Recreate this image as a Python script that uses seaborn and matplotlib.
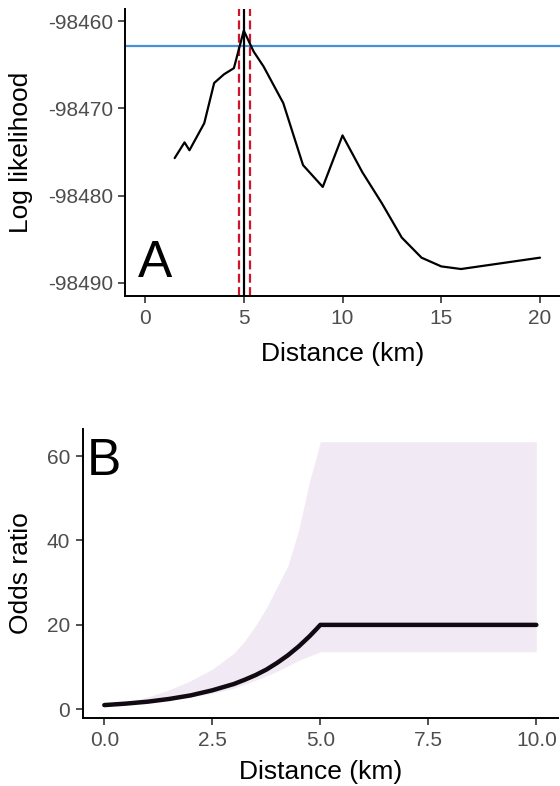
import numpy as np
import pandas as pd
import matplotlib
matplotlib.use("Agg")
import matplotlib.pyplot as plt
import seaborn as sns

# ---- panel A: profile log likelihood vs distance
dist_a = [1.5, 2.0, 2.25, 3.0, 3.5, 4.0, 4.5, 5.0, 5.5, 6.0, 7.0, 8.0, 9.0,
          10.0, 11.0, 12.0, 13.0, 14.0, 15.0, 16.0, 20.0]
loglik = [-98475.7, -98473.9, -98474.8, -98471.7, -98467.1, -98466.1, -98465.4,
          -98461.1, -98463.5, -98465.2, -98469.4, -98476.5, -98479.0,
          -98473.1, -98477.3, -98480.9, -98484.8, -98487.1, -98488.1,
          -98488.4, -98487.1]
best_dist = 5.0
ci_dist = [4.76, 5.31]
cutoff = -98462.85

# ---- panel B: odds ratio vs distance with ribbon
dist_b = [0.0, 0.5, 1.0, 1.5, 2.0, 2.5, 3.0, 3.25, 3.5, 3.75, 4.0, 4.25,
          4.5, 4.75, 4.9, 5.0, 10.0]
odds = [1.0, 1.35, 1.8, 2.45, 3.3, 4.5, 6.0, 7.0, 8.1, 9.4, 11.0, 12.8,
        14.9, 17.3, 18.9, 20.0, 20.0]
odds_hi = [1.0, 1.7, 2.9, 4.6, 6.8, 9.5, 13.3, 16.2, 19.8, 24.0, 29.0, 34.0,
           42.5, 54.0, 59.5, 63.4, 63.4]
odds_lo = [1.0, 1.3, 1.7, 2.2, 2.9, 3.8, 5.0, 5.9, 6.9, 7.9, 9.0, 10.3,
           11.6, 12.6, 13.2, 13.65, 13.65]

df_a = pd.DataFrame({"dist": dist_a, "ll": loglik})
df_b = pd.DataFrame({"dist": dist_b, "or": odds, "lo": odds_lo, "hi": odds_hi})

sns.set_theme(style="ticks")
plt.rcParams["font.family"] = ["Liberation Sans", "DejaVu Sans"]
plt.rcParams["axes.unicode_minus"] = False

TICK_COL = "#4D4D4D"
fig = plt.figure(figsize=(5.6, 7.86), dpi=100)
ax_a = fig.add_axes([0.2237, 0.6234, 0.7759, 0.3651])
ax_b = fig.add_axes([0.1477, 0.0863, 0.8486, 0.3684])

# A
ax_a.axhline(cutoff, color="#4A90D9", lw=1.6, zorder=1)
ax_a.axvline(best_dist, color="black", lw=1.6, zorder=2)
for c in ci_dist:
    ax_a.axvline(c, color="#D0142C", lw=1.6, ls=(0, (4, 2)), zorder=2)
sns.lineplot(data=df_a, x="dist", y="ll", ax=ax_a, color="black", lw=1.6, zorder=3)
ax_a.set_xlim(-1, 21)
ax_a.set_ylim(-98491.49, -98458.63)
ax_a.set_xticks([0, 5, 10, 15, 20])
ax_a.set_yticks([-98460, -98470, -98480, -98490])
ax_a.set_yticklabels(["-98460", "-98470", "-98480", "-98490"])
ax_a.text(-0.35, -98489.3, "A", fontsize=37, color="black", ha="left", va="baseline")

# B
ax_b.fill_between(df_b["dist"], df_b["lo"], df_b["hi"], color="#F1EAF4", lw=0, zorder=1)
sns.lineplot(data=df_b, x="dist", y="or", ax=ax_b, color="#120A12", lw=3.2, zorder=3)
ax_b.set_xlim(-0.5, 10.5)
ax_b.set_ylim(-2.1, 66.5)
ax_b.set_xticks([0, 2.5, 5, 7.5, 10])
ax_b.set_xticklabels(["0.0", "2.5", "5.0", "7.5", "10.0"])
ax_b.set_yticks([0, 20, 40, 60])
ax_b.text(-0.4, 55.5, "B", fontsize=37, color="black", ha="left", va="baseline")

for ax, ylab, lx, ly in [(ax_a, "Log likelihood", -0.212, -0.160),
                         (ax_b, "Odds ratio", -0.1046, -0.144)]:
    sns.despine(ax=ax)
    for s in ["left", "bottom"]:
        ax.spines[s].set_linewidth(1.4)
        ax.spines[s].set_color("black")
    ax.tick_params(length=5, width=1.2, color="#333333", labelcolor=TICK_COL,
                   labelsize=15, pad=4)
    ax.set_xlabel("Distance (km)", fontsize=19, color="black")
    ax.set_ylabel(ylab, fontsize=19, color="black")
    ax.yaxis.set_label_coords(lx, 0.5)
    ax.xaxis.set_label_coords(0.5, ly)
    ax.xaxis.label.set_va("top")

fig.savefig("out.png", dpi=100)
